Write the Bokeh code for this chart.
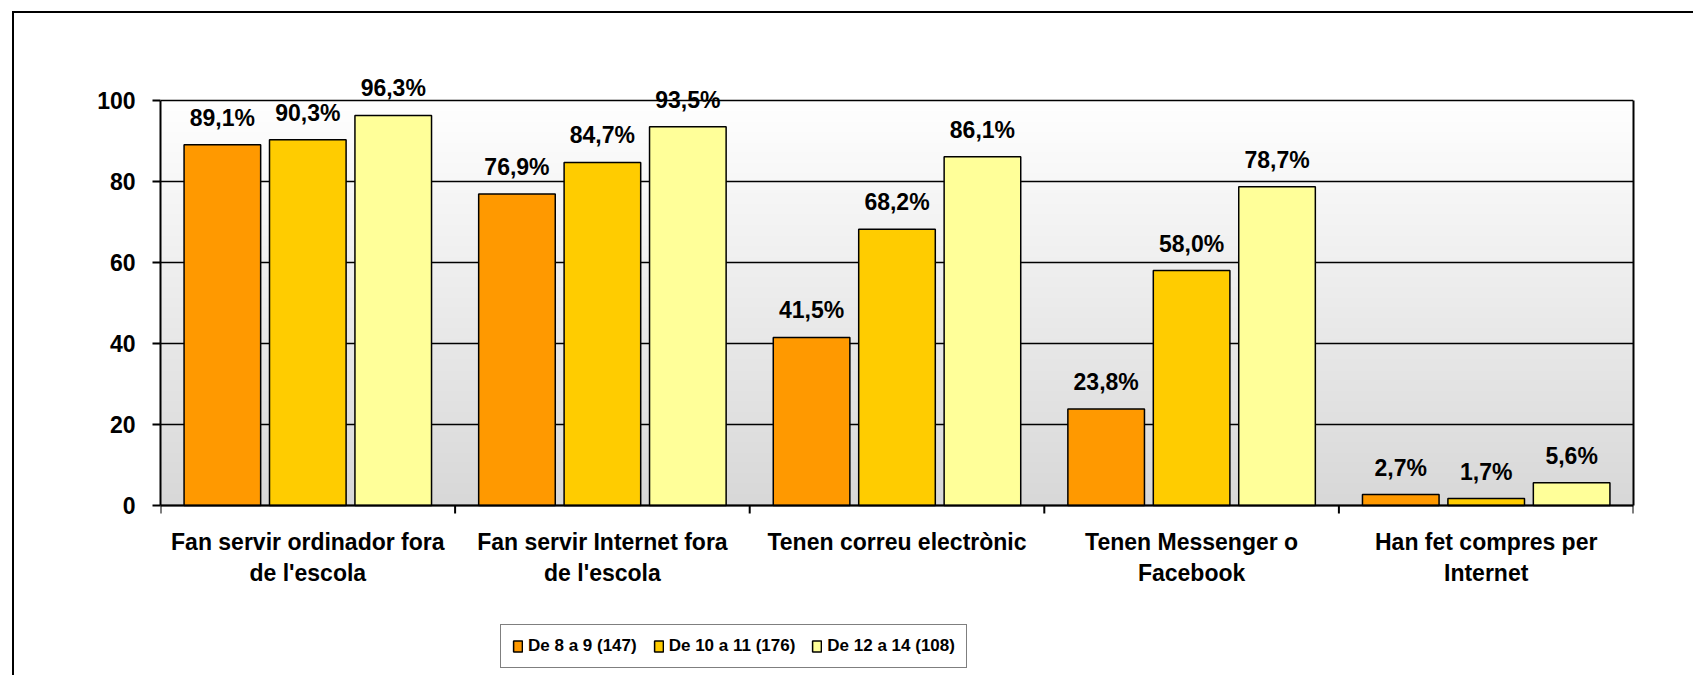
import numpy as np
from bokeh.plotting import figure
from bokeh.models import (ColumnDataSource, Range1d, FixedTicker, LabelSet,
                          Legend, LegendItem, LinearAxis, Span)
from bokeh.core.properties import value
from bokeh.embed import file_html
from bokeh.resources import INLINE

categories = ["Fan servir ordinador fora\nde l'escola",
              "Fan servir Internet fora\nde l'escola",
              "Tenen correu electrònic",
              "Tenen Messenger o\nFacebook",
              "Han fet compres per\nInternet"]
series_names = ["De 8 a 9 (147)", "De 10 a 11 (176)", "De 12 a 14 (108)"]
age_8_9 = [89.1, 76.9, 41.5, 23.8, 2.7]
age_10_11 = [90.3, 84.7, 68.2, 58.0, 1.7]
age_12_14 = [96.3, 93.5, 86.1, 78.7, 5.6]
y_ticks = [0, 20, 40, 60, 80, 100]

colors = ["#FF9900", "#FFCC00", "#FFFF99"]
offsets = [-0.29, 0.0, 0.29]
bar_w = 0.26
FONT = "Liberation Sans"

# layout (screen px): y=0 at 505, y=100 at 100 -> 4.05 px per unit
PX = 4.05
FRAME_TOP, ZERO_Y, FRAME_BOTTOM = 76, 505, 675
y_lo = -(FRAME_BOTTOM - ZERO_Y) / PX
y_hi = (ZERO_Y - FRAME_TOP) / PX

p = figure(output_backend="svg", toolbar_location=None,
           x_range=Range1d(0, 5), y_range=Range1d(y_lo, y_hi),
           x_axis_location=None,
           frame_width=1473, frame_height=FRAME_BOTTOM - FRAME_TOP,
           min_border_left=146, min_border_top=FRAME_TOP - 13,
           min_border_right=60, min_border_bottom=0)
p.margin = (11, 0, 0, 12)
p.styles = {"border-top": "2px solid black", "border-left": "2px solid black"}
p.outline_line_color = None
p.background_fill_color = "white"
p.border_fill_color = "white"

# gradient background (white at top -> light gray at bottom), only 0..100
n = 256
t = np.linspace(0, 1, n)
top = np.array([255, 255, 255]); bot = np.array([216, 216, 216])
rgb = (bot[None, :] * (1 - t[:, None]) + top[None, :] * t[:, None]).astype(np.uint8)
img = np.empty((n, 1), dtype=np.uint32)
view = img.view(dtype=np.uint8).reshape((n, 1, 4))
view[:, 0, 0] = rgb[:, 0]; view[:, 0, 1] = rgb[:, 1]; view[:, 0, 2] = rgb[:, 2]; view[:, 0, 3] = 255
p.image_rgba(image=[img], x=0, y=0, dw=5, dh=100, level="image")

# horizontal grid
p.xgrid.visible = False
p.ygrid.ticker = FixedTicker(ticks=y_ticks)
p.ygrid.grid_line_color = "black"
p.ygrid.grid_line_width = 1.5

# bars + value labels
pos = np.arange(len(categories)) + 0.5
legend_items = []
for vals, name, col, off in zip([age_8_9, age_10_11, age_12_14], series_names, colors, offsets):
    src = ColumnDataSource(dict(x=pos + off, top=vals,
                                label=[f"{v:.1f}%".replace(".", ",") for v in vals]))
    r = p.vbar(x="x", top="top", bottom=0, width=bar_w, source=src,
               fill_color=col, line_color="black", line_width=1.5)
    legend_items.append(LegendItem(label=name, renderers=[r]))
    p.add_layout(LabelSet(x="x", y="top", text="label", source=src,
                          text_align="center", text_baseline="alphabetic",
                          y_offset=19, text_font=value(FONT), text_font_style="bold",
                          text_font_size="23px", text_color="black"))

# category axis (drawn at y = 0)
p.add_layout(Span(location=0, dimension="width", line_color="black", line_width=2))
bounds = np.arange(len(categories) + 1)
p.segment(x0=bounds, y0=0, x1=bounds, y1=-8 / PX, line_color="black", line_width=2)
p.text(x=pos, y=0, text=categories, y_offset=23, text_align="center",
       text_baseline="top", text_font=value(FONT), text_font_style="bold",
       text_font_size="23px", text_color="black", text_line_height=1.23)

# y axis (left)
ya = p.yaxis[0]
ya.ticker = FixedTicker(ticks=y_ticks)
ya.bounds = (0, 100)
ya.axis_line_color = "black"; ya.axis_line_width = 2
ya.major_tick_out = 8; ya.major_tick_in = 0
ya.major_tick_line_width = 2
ya.minor_tick_line_color = None
ya.major_label_standoff = 17
ya.major_label_text_font = FONT
ya.major_label_text_font_style = "bold"
ya.major_label_text_font_size = "23px"
ya.major_label_text_color = "black"

# right frame line
ra = LinearAxis(bounds=(0, 100), ticker=FixedTicker(ticks=[]),
                major_label_text_font_size="0px", axis_line_color="black",
                axis_line_width=2, major_tick_line_color=None,
                minor_tick_line_color=None)
p.add_layout(ra, "right")

legend = Legend(items=legend_items, orientation="horizontal", location=(340, 7))
legend.border_line_color = "black"
legend.border_line_width = 1.5
legend.background_fill_color = "white"
legend.background_fill_alpha = 1
legend.padding = 11
legend.margin = 0
legend.spacing = 16
legend.glyph_width = 11
legend.glyph_height = 14
legend.label_standoff = 5
legend.label_height = 20
legend.label_text_font = FONT
legend.label_text_font_style = "bold"
legend.label_text_font_size = "17px"
legend.label_text_color = "black"
legend.label_text_baseline = "middle"
p.add_layout(legend, "center")

open("out.html", "w").write(file_html(p, INLINE))
